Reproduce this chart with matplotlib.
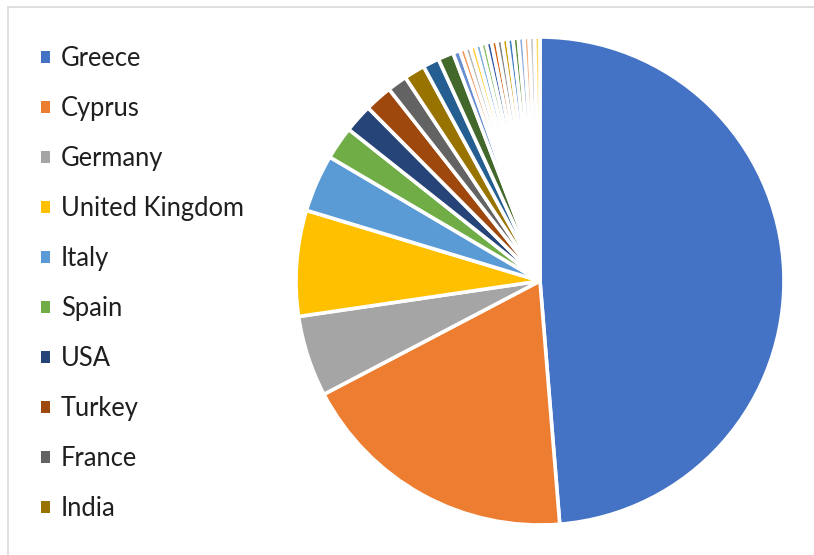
import matplotlib.pyplot as plt
from matplotlib.patches import Rectangle, Patch

# Share of visitors by country (percent)
countries = ['Greece', 'Cyprus', 'Germany', 'United Kingdom', 'Italy',
             'Spain', 'USA', 'Turkey', 'France', 'India']
main_shares = [48.7, 18.6, 5.36, 7.0, 3.8, 2.19, 1.89, 1.83, 1.31, 1.39]
# further countries, not named in the legend
other_shares = [1.08, 1.03, 0.47,
                0.36, 0.36, 0.35, 0.36, 0.35, 0.36, 0.35, 0.36,
                0.35, 0.36, 0.35, 0.36, 0.35, 0.36, 0.35]

# Excel office palette (base, darker, lighter cycles)
colors = ['#4472C4', '#ED7D31', '#A5A5A5', '#FFC000', '#5B9BD5', '#70AD47',
          '#264478', '#9E480E', '#636363', '#997300', '#255E91', '#43682B',
          '#698ED0', '#F1975A', '#B7B7B7', '#FFCD33', '#7CAFDD', '#8CC168',
          '#335AA1', '#D26012', '#848484', '#CC9A00', '#3C7DC4', '#5A8A39',
          '#8FAADC', '#F4B183', '#C9C9C9', '#FFD966']

W, H = 814, 555
fig = plt.figure(figsize=(W / 100, H / 100), dpi=100)

# chart area border (clipped at right and bottom like the reference)
fig.add_artist(Rectangle((8 / W, -0.1), 1.2, 1.1 - 6.5 / H, transform=fig.transFigure,
                         fill=False, edgecolor='#D9D9D9', linewidth=1.2))

cx, cy, r = 540, 281, 244
ax = fig.add_axes([(cx - r) / W, (H - cy - r) / H, 2 * r / W, 2 * r / H])
values = main_shares + other_shares
wedges, _ = ax.pie(values, colors=colors[:len(values)], startangle=90,
                   counterclock=False,
                   wedgeprops=dict(edgecolor='white', linewidth=2.6))
ax.set_xlim(-1, 1)
ax.set_ylim(-1, 1)
ax.set_aspect('equal')

handles = [Patch(facecolor=w.get_facecolor(), edgecolor='none')
           for w in wedges[:len(countries)]]
fig.legend(handles, countries, loc='upper left',
           bbox_to_anchor=(41 / W, 1 - 46 / H), frameon=False,
           prop={'family': 'Lato', 'size': 18.4}, labelcolor='#1f1f1f',
           handlelength=0.35, handleheight=0.35, handletextpad=0.43,
           labelspacing=0.98, borderpad=0, borderaxespad=0)

fig.savefig('out.png', dpi=100)
